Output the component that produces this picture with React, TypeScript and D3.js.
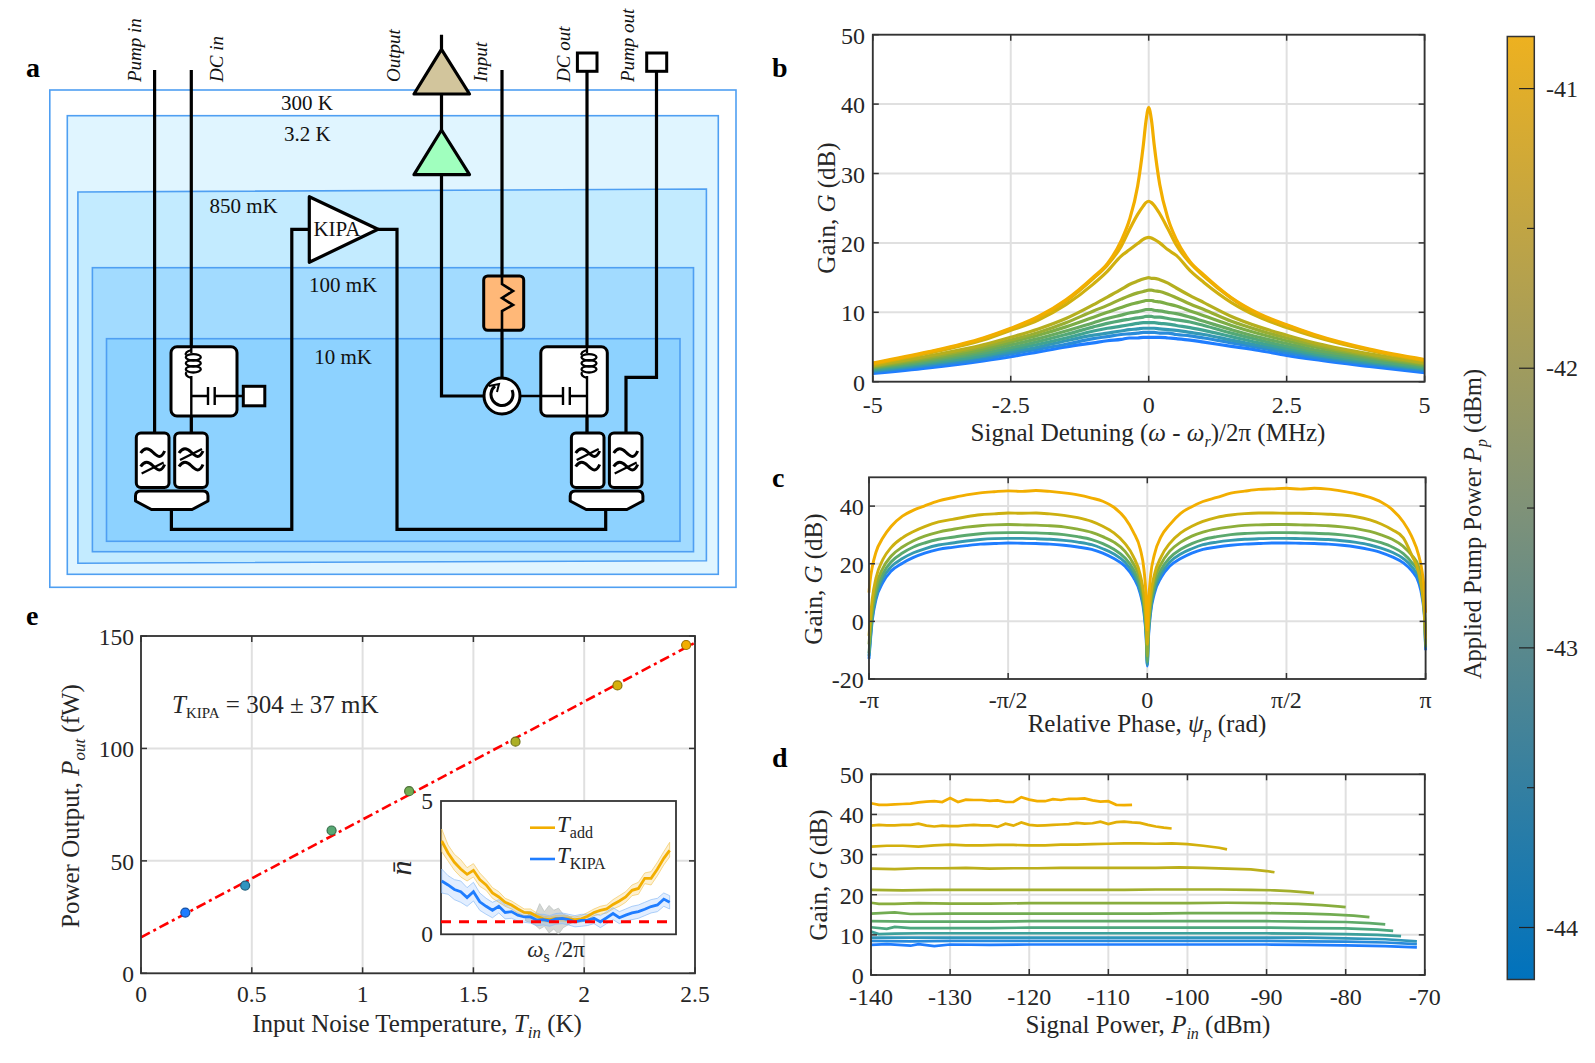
import React from "react";
import * as d3 from "d3";

// ---------- panel b ----------
const bX = [-5,-4,-3,-2.5,-2,-1.5,-1,-0.75,-0.5,-0.35,-0.2,-0.1,-0.05,0,0.05,0.1,0.2,0.35,0.5,0.75,1,1.5,2,2.5,3,4,5];
const b1 = [2.7,4.3,6.3,7.7,9.4,11.8,15.1,17,20.3,23.3,28.2,33.9,37.5,39.5,37.7,34.1,28.4,23.5,20.5,17.3,15.4,12.1,9.8,8.2,6.8,4.7,3.2];
const b2 = [2.6,4.2,6.2,7.6,9.2,11.6,14.9,16.8,19.5,21.9,24.1,25.3,25.8,26,25.8,25.4,24.2,22,19.7,17.1,15.2,12,9.6,8.1,6.7,4.6,3.1];
const b3 = [2.5,4.1,6,7.4,8.9,11.1,14.1,15.9,18.1,19,19.9,20.5,20.7,20.8,20.7,20.5,20,19,18.2,16,14.3,11.4,9.3,7.8,6.5,4.5,3];
const b4 = [2.3,3.7,5.3,6.4,7.6,9.1,11.1,12.2,13.3,14,14.5,14.8,14.9,15,14.9,14.9,14.7,14.2,13.5,12.4,11.4,9.4,7.9,6.7,5.6,4,2.7];
const b5 = [2.2,3.5,5,6,7.1,8.5,10.2,11,11.9,12.4,12.8,13,13.1,13.2,13.2,13.1,13,12.6,12.1,11.2,10.4,8.7,7.4,6.3,5.3,3.8,2.6];
const b6 = [2.1,3.3,4.7,5.7,6.7,7.9,9.3,10,10.7,11.1,11.4,11.6,11.7,11.7,11.7,11.6,11.5,11.2,10.9,10.2,9.5,8.1,6.9,5.9,5,3.6,2.4];
const b7 = [2,3.1,4.4,5.3,6.2,7.3,8.5,9.1,9.6,9.9,10.1,10.3,10.4,10.4,10.4,10.3,10.2,10,9.8,9.3,8.7,7.5,6.4,5.5,4.6,3.4,2.3];
const b8 = [1.9,2.9,4.1,4.9,5.8,6.8,7.9,8.4,8.8,9,9.2,9.3,9.4,9.4,9.4,9.3,9.3,9.1,8.9,8.6,8.1,7,6,5.1,4.3,3.1,2.1];
const b9 = [1.7,2.7,3.8,4.6,5.4,6.3,7.3,7.7,8,8.2,8.4,8.5,8.5,8.5,8.5,8.5,8.4,8.3,8.1,7.8,7.4,6.5,5.6,4.8,4,2.9,1.9];
const b10 = [1.6,2.5,3.6,4.3,5,5.9,6.7,7,7.3,7.5,7.6,7.7,7.7,7.7,7.7,7.7,7.6,7.5,7.4,7.1,6.8,6,5.2,4.5,3.8,2.7,1.8];
const b11 = [1.4,2.3,3.3,4,4.7,5.4,6.2,6.5,6.8,6.9,7,7.1,7.1,7.1,7.1,7.1,7,7,6.8,6.6,6.3,5.6,4.9,4.2,3.5,2.5,1.6];
const b12 = [1.2,2,3,3.6,4.3,5,5.6,5.9,6.1,6.3,6.3,6.4,6.4,6.4,6.4,6.4,6.4,6.3,6.2,6,5.7,5.1,4.5,3.8,3.2,2.2,1.3];
const bSeries = [b1,b2,b3,b4,b5,b6,b7,b8,b9,b10,b11,b12];

// ---------- panel c (x in units of pi) ----------
const cX = [-1,-0.996,-0.988,-0.975,-0.95,-0.92,-0.88,-0.84,-0.8,-0.75,-0.7,-0.65,-0.6,-0.55,-0.5,-0.45,-0.4,-0.35,-0.3,-0.25,-0.2,-0.16,-0.12,-0.08,-0.05,-0.025,-0.012,-0.004,0,
  0.004,0.012,0.025,0.05,0.08,0.12,0.16,0.2,0.25,0.3,0.35,0.4,0.45,0.5,0.55,0.6,0.65,0.7,0.75,0.8,0.84,0.88,0.92,0.95,0.975,0.988,0.996,1];
const c1 = [10,14,19,24,29,33,36.5,38.6,40.1,41.8,42.9,43.9,44.6,45,45.3,45.1,45.4,45.1,44.6,43.9,42.8,41.7,39.6,35.8,31,25,18,8,-3,
  6,16,23,29.5,33.5,37.5,39.8,41.6,43,44.5,45.2,45.8,46,46.2,45.9,46.2,45.9,45.2,44.3,43,41.4,38.8,34.5,29.5,23,17,10,3];
const c2 = [-5,0,8,15,21.5,25.7,29,31.2,32.9,34.5,35.4,36.3,37,37.3,37.6,37.5,37.6,37.3,36.8,36,34.7,33,30.7,27,22.5,16,9,0,-8,
  0,9,16,22.5,27,30.7,33,34.7,36.1,36.9,37.4,37.6,37.6,37.5,37.5,37.4,37.2,36.9,36.3,35.2,33.8,31.8,29,23,17,10,2,-6];
const c3 = [-8,-3,5,12,18.5,22.7,25.8,28,29.6,31,31.9,32.7,33.2,33.5,33.6,33.5,33.4,33.2,32.8,32,30.9,29.4,27.5,24.3,20,14,7,-2,-12,
  -2,7,14,20,24.3,27.5,29.6,31,32.1,32.8,33.3,33.5,33.6,33.6,33.5,33.4,33.2,32.8,32.2,31.2,30,28.5,26,23,19,13,5,-8];
const c4 = [-11,-6,3,10,16.5,20.7,23.7,25.8,27.2,28.5,29.2,29.9,30.4,30.7,30.8,30.8,30.7,30.5,30.1,29.4,28.4,27,25,22,18,12,5,-4,-14,
  -4,5,12,18,22,25,27,28.4,29.4,30.1,30.5,30.7,30.8,30.8,30.7,30.6,30.4,30,29.4,28.4,27.3,25.8,23.5,20.5,17,11,3,-9];
const c5 = [-12,-7,1.5,8.5,15,19,21.8,23.8,25.2,26.5,27.2,27.9,28.4,28.7,28.8,28.8,28.7,28.5,28.1,27.5,26.6,25.2,23.4,20.5,16.5,10.5,4,-5,-15,
  -5,4,10.5,16.5,20.5,23.4,25.2,26.6,27.5,28.1,28.5,28.7,28.8,28.8,28.7,28.6,28.4,28,27.4,26.5,25.4,24,21.8,19,15,9.5,2,-9];
const c6 = [-13,-8,0.5,7.5,13.5,17.5,20.2,22.2,23.7,25,25.7,26.3,26.8,27,27.2,27.1,27,26.8,26.4,25.8,25,23.7,21.8,19.1,15.3,9.5,3,-6,-15.5,
  -6,3,9.5,15.3,19.1,21.8,23.7,25,25.8,26.4,26.8,27,27.2,27.2,27.1,27,26.8,26.4,25.8,24.9,23.9,22.4,20.3,17.6,13.5,8,1,-10];
const cSeries = [c1,c2,c3,c4,c5,c6];

// ---------- panel d ----------
const d1X = [-140,-139,-138,-137,-136,-135,-134,-133,-132,-131,-130,-129,-128,-127,-126,-125,-124,-123,-122,-121,-120,-119,-118,-117,-116,-115,-114,-113,-112,-111,-110,-109,-108,-107];
const d1Y = [42.8,42.4,42.4,42.5,42.6,42.7,43,43.2,43.3,43.1,44.1,43.1,43.7,43.6,43.6,43.4,43.5,43.1,43.1,44.3,43.7,43.3,43.3,43.8,43.6,43.9,43.9,44,43.5,43.2,43.3,42.4,42.3,42.4];
const d2X = [-140,-139,-138,-137,-136,-135,-134,-133,-132,-131,-130,-129,-128,-127,-126,-125,-124,-123,-122,-121,-120,-119,-118,-117,-116,-115,-114,-113,-112,-111,-110,-109,-108,-107,-106,-105,-104,-103,-102];
const d2Y = [37.2,37.4,37.3,37.3,37.4,37.4,37.7,37.2,37,37.2,37.1,37.1,37.3,37.4,37.3,37.3,36.9,37.7,37.2,38,37.4,37.2,37.3,37.4,37.5,37.6,37.9,37.7,37.8,38.2,37.6,38.1,38.2,38,37.9,37.4,37,36.7,36.5];
const d3X = [-140,-138,-136,-134,-132,-130,-128,-126,-124,-122,-120,-118,-116,-114,-112,-110,-108,-106,-104,-102,-100,-98,-96,-95];
const d3Y = [32,32.2,32.2,32,32.3,32.5,32.3,32.3,32.4,32.4,32.3,32.3,32.5,32.5,32.6,32.7,32.8,32.8,32.7,32.8,32.6,32.2,31.7,31.3];
const d4X = [-140,-137,-134,-131,-128,-125,-122,-119,-116,-113,-110,-107,-104,-101,-98,-95,-92,-90,-89];
const d4Y = [26.5,26.4,26.6,26.6,26.7,26.5,26.6,26.6,26.7,26.7,26.7,26.7,26.7,26.8,26.7,26.5,26.3,25.9,25.6];
const d5X = [-140,-136,-132,-128,-124,-120,-116,-112,-108,-104,-100,-96,-92,-89,-87,-85,-84];
const d5Y = [21.2,21.1,21.2,21.2,21.2,21.2,21.2,21.2,21.2,21.3,21.3,21.3,21.2,21.1,20.9,20.6,20.4];
const d6X = [-140,-139,-137,-134,-130,-125,-120,-115,-110,-105,-100,-95,-90,-86,-83,-81,-80];
const d6Y = [18,17.7,17.7,17.9,17.8,17.8,17.9,17.9,17.9,17.9,17.9,18,17.9,17.7,17.4,17.1,16.9];
const d7X = [-140,-137,-135,-130,-125,-120,-115,-110,-105,-100,-95,-90,-85,-82,-79,-77];
const d7Y = [15.3,15.6,15.2,15.3,15.3,15.3,15.3,15.3,15.3,15.4,15.4,15.4,15.3,15.1,14.8,14.4];
const d8X = [-140,-135,-130,-125,-120,-115,-110,-105,-100,-95,-90,-85,-80,-77,-75];
const d8Y = [13.4,13.3,13.3,13.3,13.4,13.4,13.4,13.4,13.4,13.4,13.4,13.3,13.2,12.9,12.6];
const d9X = [-140,-138,-137,-135,-130,-125,-120,-115,-110,-105,-100,-95,-90,-85,-80,-76,-74];
const d9Y = [11.9,11.5,12,11.7,11.7,11.7,11.8,11.8,11.8,11.8,11.8,11.8,11.8,11.7,11.6,11.3,11];
const d10X = [-140,-139,-137,-134,-130,-125,-120,-115,-110,-105,-100,-95,-90,-85,-80,-76,-73];
const d10Y = [10.8,10.2,10.3,10.4,10.4,10.4,10.4,10.4,10.4,10.4,10.4,10.4,10.4,10.3,10.2,10,9.7];
const d11X = [-140,-135,-130,-125,-120,-115,-110,-105,-100,-95,-90,-85,-80,-75,-71];
const d11Y = [9.3,9.3,9.3,9.3,9.3,9.3,9.3,9.3,9.3,9.3,9.3,9.3,9.1,8.9,8.4];
const d12X = [-140,-135,-130,-125,-120,-115,-110,-105,-100,-95,-90,-85,-80,-75,-71];
const d12Y = [8.5,8.4,8.5,8.5,8.5,8.5,8.5,8.5,8.5,8.5,8.5,8.4,8.3,8.1,7.7];
const d13X = [-140,-138,-135,-134,-132,-130,-125,-120,-115,-110,-105,-100,-95,-90,-85,-80,-75,-71];
const d13Y = [7.5,7.7,7.3,7.7,7.2,7.6,7.5,7.6,7.6,7.6,7.6,7.6,7.6,7.6,7.5,7.4,7.2,6.9];
const dSeries: [number[], number[]][] = [[d1X,d1Y],[d2X,d2Y],[d3X,d3Y],[d4X,d4Y],[d5X,d5Y],[d6X,d6Y],[d7X,d7Y],[d8X,d8Y],[d9X,d9Y],[d10X,d10Y],[d11X,d11Y],[d12X,d12Y],[d13X,d13Y]];

// ---------- panel e ----------
const eTin = [0.2,0.47,0.86,1.21,1.69,2.15,2.46];
const ePout = [27,39,63.5,81,103,128,146];
const eColorT = [1,0.85,0.62,0.5,0.3,0.15,0];
const eFitX = [0,2.5];
const eFitY = [16,147];

// ---------- inset ----------
const iX = [0.003,0.03,0.057,0.084,0.111,0.138,0.165,0.192,0.219,0.246,0.273,0.3,0.327,0.354,0.381,0.408,0.435,0.462,0.489,0.516,0.543,0.57,0.597,0.624,0.651,0.678,0.705,0.732,0.759,0.786,0.813,0.84,0.867,0.894,0.921,0.948,0.973];
const iAdd = [3.5,3.05,2.7,2.45,2.25,2.4,2.05,1.85,1.55,1.4,1.2,1.1,0.95,0.82,0.8,0.68,0.58,0.55,0.6,0.6,0.58,0.55,0.58,0.68,0.82,0.9,0.95,1.12,1.25,1.4,1.65,1.72,2.1,2.1,2.45,2.85,3.15];
const iAddUp = [3.95,3.35,3,2.8,2.5,2.65,2.3,2.05,1.75,1.6,1.35,1.25,1.1,0.95,0.95,0.8,0.68,0.65,0.7,0.7,0.68,0.65,0.7,0.82,0.95,1.05,1.1,1.3,1.45,1.6,1.85,1.95,2.3,2.35,2.7,3.1,3.45];
const iAddLo = [3.1,2.75,2.4,2.15,2,2.15,1.8,1.65,1.35,1.2,1.05,0.95,0.8,0.7,0.68,0.56,0.48,0.45,0.5,0.5,0.48,0.45,0.46,0.55,0.7,0.75,0.8,0.95,1.05,1.2,1.45,1.5,1.9,1.85,2.2,2.6,2.9];
const iKipa = [2,1.85,1.68,1.6,1.38,1.6,1.22,1.05,0.9,1.05,0.82,0.85,0.72,0.65,0.65,0.53,0.55,0.5,0.58,0.6,0.55,0.47,0.52,0.53,0.6,0.47,0.62,0.78,0.62,0.72,0.8,0.85,0.94,1.04,1.1,1.32,1.2];
const iKipaUp = [2.45,2.2,2.05,2,1.75,1.95,1.55,1.35,1.2,1.3,1.1,1.1,0.95,0.85,0.85,0.75,0.75,0.7,0.78,0.8,0.75,0.7,0.75,0.75,0.8,0.7,0.85,1,0.85,0.95,1.05,1.1,1.2,1.3,1.35,1.55,1.45];
const iKipaLo = [1.55,1.5,1.3,1.2,1.05,1.25,0.9,0.75,0.62,0.8,0.58,0.6,0.5,0.45,0.42,0.32,0.35,0.3,0.38,0.4,0.35,0.28,0.3,0.33,0.4,0.25,0.4,0.55,0.4,0.5,0.55,0.6,0.7,0.8,0.85,1.05,0.95];
const iGrayX = [0.36,0.38,0.4,0.42,0.44,0.46,0.48,0.5,0.52,0.54,0.56];
const iGrayUp = [0.65,0.8,0.72,1.15,0.85,1.08,0.9,0.98,0.75,0.7,0.6];
const iGrayLo = [0.5,0.45,0.35,0.2,0.3,0.05,0.2,0,0.25,0.35,0.45];
const iFloorX = [0,0.975];
const iFloorY = [0.47,0.47];

// ---------- tick labels ----------
const bXTicks = [-5,-2.5,0,2.5,5];
const bYTicks = [0,10,20,30,40,50];
const cXTicks = [-1,-0.5,0,0.5,1];
const cXLabels = ["-π","-π/2","0","π/2","π"];
const cYTicks = [-20,0,20,40];
const dXTicks = [-140,-130,-120,-110,-100,-90,-80,-70];
const dYTicks = [0,10,20,30,40,50];
const eXTicks = [0,0.5,1,1.5,2,2.5];
const eYTicks = [0,50,100,150];
const cbTicks = [-41,-42,-43,-44];
const cbMinor = [-41.5,-42.5,-43.5];

const FONT = "'Liberation Serif', 'Times New Roman', serif";
const INK = "#262626";
const ramp = d3.scaleLinear<string>()
  .domain([0,0.2,0.45,0.7,0.85,1])
  .range(["#f2ae00","#ccb010","#7dad45","#44a688","#2f94c0","#1f7dff"])
  .interpolate(d3.interpolateRgb);

type S = d3.ScaleLinear<number, number>;

function Axes(p: { x: S; y: S; xt: number[]; yt: number[]; xl?: string[]; xBase: number; yRight: number; size?: number; children?: React.ReactNode }) {
  const [x0, x1] = p.x.range();
  const [y0, y1] = p.y.range();
  const tick = 6;
  const size = p.size ?? 24;
  return (
    <g fontFamily={FONT} fill={INK}>
      <g stroke="#e0e0e0" strokeWidth={2}>
        {p.xt.map((t) => <line key={t} x1={p.x(t)} x2={p.x(t)} y1={y0} y2={y1} />)}
        {p.yt.map((t) => <line key={t} y1={p.y(t)} y2={p.y(t)} x1={x0} x2={x1} />)}
      </g>
      {p.children}
      <rect x={x0} y={y1} width={x1 - x0} height={y0 - y1} fill="none" stroke="#333" strokeWidth={1.8} />
      <g stroke="#333" strokeWidth={1.5}>
        {p.xt.map((t) => (
          <g key={t}>
            <line x1={p.x(t)} x2={p.x(t)} y1={y0} y2={y0 - tick} />
            <line x1={p.x(t)} x2={p.x(t)} y1={y1} y2={y1 + tick} />
          </g>
        ))}
        {p.yt.map((t) => (
          <g key={t}>
            <line y1={p.y(t)} y2={p.y(t)} x1={x0} x2={x0 + tick} />
            <line y1={p.y(t)} y2={p.y(t)} x1={x1} x2={x1 - tick} />
          </g>
        ))}
      </g>
      <g fontSize={size}>
        {p.xt.map((t, i) => (
          <text key={t} x={p.x(t)} y={p.xBase} textAnchor="middle">{p.xl ? p.xl[i] : String(t)}</text>
        ))}
        {p.yt.map((t) => (
          <text key={t} x={p.yRight} y={p.y(t) + 9} textAnchor="end">{t}</text>
        ))}
      </g>
    </g>
  );
}

const It = (p: { children: React.ReactNode }) => <tspan fontStyle="italic">{p.children}</tspan>;

function Filter({ x0, x1, cross }: { x0: number; x1: number; cross: "top" | "bottom" }) {
  const cx = (x0 + x1) / 2;
  const wave = (y: number) => `M${cx - 12},${y} C${cx - 8},${y - 6} ${cx - 4},${y - 5} ${cx},${y - 1} S${cx + 8},${y + 7} ${cx + 12},${y - 2}`;
  const crossLine = (y: number) => `M${cx - 11},${y + 7} L${cx + 11},${y - 4}`;
  const yTop = 453, yBot = 466.5;
  return (
    <g>
      <rect x={x0} y={433} width={x1 - x0} height={54.5} rx={4.5} fill="#fff" stroke="#000" strokeWidth={3} />
      <path d={wave(yTop)} fill="none" stroke="#000" strokeWidth={3} />
      <path d={wave(yBot)} fill="none" stroke="#000" strokeWidth={3} />
      <path d={crossLine(cross === "top" ? yTop : yBot)} stroke="#000" strokeWidth={2.2} />
    </g>
  );
}

function Combiner({ x0, x1 }: { x0: number; x1: number }) {
  const m = x1 - x0;
  return (
    <path
      d={`M${x0 + 5},491 H${x1 - 5} Q${x1},491 ${x1},496 V501 L${x1 - m * 0.22},509.5 H${x0 + m * 0.22} L${x0},501 V496 Q${x0},491 ${x0 + 5},491 Z`}
      fill="#fff" stroke="#000" strokeWidth={3} strokeLinejoin="round" />
  );
}

function Coil({ x }: { x: number }) {
  return (
    <g fill="none" stroke="#000" strokeWidth={2.3}>
      <path d={`M${x},347 V353`} />
      <ellipse cx={x + 2} cy={357.3} rx={7.5} ry={3.2} />
      <ellipse cx={x + 2} cy={363.3} rx={7.5} ry={3.2} />
      <ellipse cx={x + 2} cy={369.3} rx={7.5} ry={3.2} />
      <path d={`M${x - 5},355 Q${x - 7},352 ${x},350 M${x - 5},372 Q${x - 7},376 ${x},378`} />
    </g>
  );
}

function Schematic() {
  const w = 3.2;
  const k = { fill: "none", stroke: "#000", strokeWidth: w, strokeLinejoin: "miter" as const };
  const zone = "#4f9ff2";
  return (
    <g>
      <rect x={49.8} y={90} width={686.2} height={497.3} fill="#fff" stroke={zone} strokeWidth={1.6} />
      <rect x={67.3} y={115.7} width={651} height={458.6} fill="#e0f5ff" stroke={zone} strokeWidth={1.6} />
      <path d="M77.9,192 L706.4,189 L706.4,560.7 L77.9,563.3 Z" fill="#c3ebff" stroke={zone} strokeWidth={1.6} />
      <rect x={92.4} y={267.7} width={601.1} height={284} fill="#a2dbff" stroke={zone} strokeWidth={1.6} />
      <rect x={106.5} y={338.7} width={573.5} height={202.6} fill="#8dd2ff" stroke={zone} strokeWidth={1.6} />

      {/* wires */}
      <path d="M154.6,70 V432.7" {...k} />
      <path d="M191.3,70 V432.7" {...k} />
      <path d="M171.4,509 V529.3 H291.8 V229.3 H309.3" {...k} />
      <path d="M378,229.3 H397 V529.3 H605.7 V509" {...k} />
      <path d="M441.5,34.7 V396 H484" {...k} />
      <path d="M502,70 V278" {...k} />
      <path d="M502,330 V378" {...k} />
      <path d="M587,71 V432.7" {...k} />
      <path d="M656.5,71 V377.3 H626 V432.7" {...k} />

      {/* amplifiers */}
      <path d="M441.5,49.3 L469.5,94 H414 Z" fill="#d2c59c" stroke="#000" strokeWidth={w} strokeLinejoin="round" />
      <path d="M441.5,130 L469.5,174.7 H414 Z" fill="#a0ffbe" stroke="#000" strokeWidth={w} strokeLinejoin="round" />
      <path d="M309.3,196.7 L378,229.3 L309.3,262.3 Z" fill="#fff" stroke="#000" strokeWidth={w} strokeLinejoin="round" />
      <text x={337} y={236} textAnchor="middle" fontFamily={FONT} fontSize={21} fill="#111">KIPA</text>

      {/* attenuator */}
      <rect x={483.7} y={276} width={40} height={54.3} rx={4} fill="#ffb878" stroke="#000" strokeWidth={3} />
      <path d="M502,276 V284 L513,291 L502,298 L513,305 L502,311 V330" fill="none" stroke="#000" strokeWidth={2.6} />

      {/* resonator boxes */}
      <rect x={171} y={346.7} width={66} height={69.3} rx={6} fill="#fff" stroke="#000" strokeWidth={3} />
      <rect x={540.8} y={346.7} width={66.5} height={69.3} rx={6} fill="#fff" stroke="#000" strokeWidth={3} />
      <path d="M191.3,376 V432.7" {...k} strokeWidth={2.4} />
      <path d="M587,376 V432.7" {...k} strokeWidth={2.4} />
      <Coil x={191.3} />
      <Coil x={587} />
      <g stroke="#000" strokeWidth={2.4} fill="none">
        <path d="M191.3,396 H208 M214.7,396 H243" />
        <path d="M208,387 V405 M214.7,387 V405" />
        <path d="M521,396 H563 M569.8,396 H587" />
        <path d="M563,387 V405 M569.8,387 V405" />
      </g>

      {/* circulator */}
      <circle cx={502} cy={396} r={18} fill="#fff" stroke="#000" strokeWidth={3} />
      <path d="M495,386 A11,11 0 1 0 512,390" fill="none" stroke="#000" strokeWidth={3} />
      <path d="M489,386 L499,384 L497,392" fill="none" stroke="#000" strokeWidth={2} />

      {/* squares */}
      <rect x={243.3} y={386.3} width={21.5} height={19.5} fill="#fff" stroke="#000" strokeWidth={3} />
      <rect x={577.4} y={53} width={19.6} height={18.3} fill="#fff" stroke="#000" strokeWidth={3} />
      <rect x={646.7} y={53} width={20} height={18.3} fill="#fff" stroke="#000" strokeWidth={3} />

      {/* filters */}
      <Filter x0={136.3} x1={169} cross="bottom" />
      <Filter x0={174.7} x1={207.3} cross="top" />
      <Filter x0={571.4} x1={604} cross="top" />
      <Filter x0={609.4} x1={642} cross="bottom" />
      <Combiner x0={135.5} x1={208} />
      <Combiner x0={570.2} x1={642.9} />

      {/* labels */}
      <g fontFamily={FONT} fontSize={21} fill="#111">
        <text x={307} y={110} textAnchor="middle">300 K</text>
        <text x={307.4} y={140.7} textAnchor="middle">3.2 K</text>
        <text x={243.6} y={213} textAnchor="middle">850 mK</text>
        <text x={343} y={291.7} textAnchor="middle">100 mK</text>
        <text x={343} y={364} textAnchor="middle">10 mK</text>
      </g>
      <g fontFamily={FONT} fontSize={19} fontStyle="italic" fill="#111">
        {([["Pump in",141],["DC in",222.5],["Output",400],["Input",486.5],["DC out",570],["Pump out",634]] as [string,number][]).map(([t, x]) => (
          <text key={t} transform={`translate(${x},82) rotate(-90)`}>{t}</text>
        ))}
      </g>
    </g>
  );
}

export default function App() {
  const bx = d3.scaleLinear().domain([-5, 5]).range([872.8, 1424.6]);
  const by = d3.scaleLinear().domain([0, 50]).range([381.7, 34.7]);
  const cx = d3.scaleLinear().domain([-1, 1]).range([869, 1425.6]);
  const cy = d3.scaleLinear().domain([-20, 50]).range([679, 477.3]);
  const dx = d3.scaleLinear().domain([-140, -70]).range([871, 1424.8]);
  const dy = d3.scaleLinear().domain([0, 50]).range([975, 774.3]);
  const ex = d3.scaleLinear().domain([0, 2.5]).range([141, 695]);
  const ey = d3.scaleLinear().domain([0, 150]).range([973.3, 636]);
  const ix = d3.scaleLinear().domain([0, 1]).range([441, 676]);
  const iy = d3.scaleLinear().domain([0, 5]).range([934.3, 801]);
  const cb = d3.scaleLinear().domain([-41, -44]).range([88.6, 927.5]);

  const path = (xs: number[], ys: number[], sx: S, sy: S, curve: d3.CurveFactory = d3.curveLinear) =>
    d3.line<number>().x((_, i) => sx(xs[i])).y((v) => sy(v)).curve(curve)(ys) as string;
  const band = (xs: number[], up: number[], lo: number[]) =>
    d3.area<number>().x((_, i) => ix(xs[i])).y0((_, i) => iy(lo[i])).y1((v) => iy(v))(up) as string;
  const rev = <T,>(a: T[]) => [...a].reverse();

  return (
    <svg width={1595} height={1063} style={{ position: "absolute", left: 0, top: 0, display: "block" }} fontFamily={FONT}>
      <defs>
        <linearGradient id="cbg" x1="0" x2="0" y1="0" y2="1">
          <stop offset="0" stopColor="#edb120" />
          <stop offset="0.5" stopColor="#7f9278" />
          <stop offset="1" stopColor="#0072bd" />
        </linearGradient>
        <clipPath id="clipI"><rect x={441} y={801} width={235} height={133.3} /></clipPath>
      </defs>
      <rect width={1595} height={1063} fill="#fff" />

      <Schematic />

      {/* panel letters */}
      <g fontWeight="bold" fontSize={28} fill="#000">
        <text x={26} y={77}>a</text>
        <text x={772} y={77}>b</text>
        <text x={772} y={487}>c</text>
        <text x={772} y={767}>d</text>
        <text x={26} y={625}>e</text>
      </g>

      {/* b */}
      <Axes x={bx} y={by} xt={bXTicks} yt={bYTicks} xBase={413} yRight={865}>
        {rev(bSeries.map((s, i) => (
          <path key={i} d={path(bX, s, bx, by, d3.curveMonotoneX)} fill="none" stroke={ramp(i / (bSeries.length - 1))} strokeWidth={3.2} />
        )))}
      </Axes>
      <g fontSize={25} fill={INK}>
        <text transform="translate(835,208) rotate(-90)" textAnchor="middle">Gain, <It>G</It> (dB)</text>
        <text x={1148} y={441} textAnchor="middle">Signal Detuning (<It>ω</It> - <It>ω</It><tspan fontStyle="italic" fontSize={16} dy={6}>r</tspan><tspan dy={-6}>)/2π (MHz)</tspan></text>
      </g>

      {/* c */}
      <Axes x={cx} y={cy} xt={cXTicks} yt={cYTicks} xl={cXLabels} xBase={708} yRight={863.7}>
        {rev(cSeries.map((s, i) => (
          <path key={i} d={path(cX, s, cx, cy, d3.curveMonotoneX)} fill="none" stroke={ramp(i / (cSeries.length - 1))} strokeWidth={2.9} />
        )))}
      </Axes>
      <g fontSize={25} fill={INK}>
        <text transform="translate(822,579) rotate(-90)" textAnchor="middle">Gain, <It>G</It> (dB)</text>
        <text x={1147} y={732} textAnchor="middle">Relative Phase, <It>ψ</It><tspan fontStyle="italic" fontSize={16} dy={6}>p</tspan><tspan dy={-6}> (rad)</tspan></text>
      </g>

      {/* d */}
      <Axes x={dx} y={dy} xt={dXTicks} yt={dYTicks} xBase={1005} yRight={863.7}>
        {rev(dSeries.map(([xs, ys], i) => (
          <path key={i} d={path(xs, ys, dx, dy)} fill="none" stroke={ramp(i / (dSeries.length - 1))} strokeWidth={2.7} />
        )))}
      </Axes>
      <g fontSize={25} fill={INK}>
        <text transform="translate(827,875) rotate(-90)" textAnchor="middle">Gain, <It>G</It> (dB)</text>
        <text x={1148} y={1033} textAnchor="middle">Signal Power, <It>P</It><tspan fontStyle="italic" fontSize={16} dy={6}>in</tspan><tspan dy={-6}> (dBm)</tspan></text>
      </g>

      {/* e */}
      <Axes x={ex} y={ey} xt={eXTicks} yt={eYTicks} xBase={1002} yRight={134} size={23.5}>
        <path d={path(eFitX, eFitY, ex, ey)} fill="none" stroke="#f00" strokeWidth={2.6} strokeDasharray="10 4 3 4" />
        {eTin.map((t, i) => {
          const c = d3.color(ramp(eColorT[i]))!;
          return <circle key={i} cx={ex(t)} cy={ey(ePout[i])} r={4.5} fill={c.formatHex()} stroke={c.darker(1.2).formatHex()} strokeWidth={1.2} />;
        })}
      </Axes>
      <g fontSize={25} fill={INK}>
        <text transform="translate(79,806) rotate(-90)" textAnchor="middle">Power Output, <It>P</It><tspan fontStyle="italic" fontSize={17} dy={6}>out</tspan><tspan dy={-6}> (fW)</tspan></text>
        <text x={417} y={1032} textAnchor="middle">Input Noise Temperature, <It>T</It><tspan fontStyle="italic" fontSize={17} dy={6}>in</tspan><tspan dy={-6}> (K)</tspan></text>
        <text x={172} y={713}><It>T</It><tspan fontSize={15} dy={5}>KIPA</tspan><tspan dy={-5}> = 304 ± 37 mK</tspan></text>
      </g>

      {/* inset */}
      <rect x={441} y={801} width={235} height={133.3} fill="#fff" stroke="#333" strokeWidth={1.8} />
      <g clipPath="url(#clipI)">
        <path d={band(iGrayX, iGrayUp, iGrayLo)} fill="#d5d8d6" stroke="#bfc4c2" strokeWidth={0.8} />
        <path d={band(iX, iAddUp, iAddLo)} fill="#f2ae00" fillOpacity={0.18} stroke="#f2c860" strokeWidth={0.7} />
        <path d={band(iX, iKipaUp, iKipaLo)} fill="#1f7dff" fillOpacity={0.13} stroke="#8cbcf5" strokeWidth={0.7} />
        <path d={path(iX, iAdd, ix, iy)} fill="none" stroke="#f2ae00" strokeWidth={2.8} />
        <path d={path(iX, iKipa, ix, iy)} fill="none" stroke="#1f7dff" strokeWidth={2.8} />
        <path d={path(iFloorX, iFloorY, ix, iy)} fill="none" stroke="#f00" strokeWidth={2.8} strokeDasharray="10 8" />
      </g>
      <g fill={INK}>
        <text x={433} y={809} textAnchor="end" fontSize={23.5}>5</text>
        <text x={433} y={942} textAnchor="end" fontSize={23.5}>0</text>
        <text transform="translate(411,868) rotate(-90)" textAnchor="middle" fontSize={30} fontStyle="italic">n̄</text>
        <text x={556} y={957} textAnchor="middle" fontSize={23}><It>ω</It><tspan fontSize={16} dy={5}>s</tspan><tspan dy={-5}> /2π</tspan></text>
        <line x1={530} x2={555} y1={827.7} y2={827.7} stroke="#f2ae00" strokeWidth={2.6} />
        <line x1={530} x2={555} y1={859} y2={859} stroke="#1f7dff" strokeWidth={2.6} />
        <text x={557} y={832} fontSize={23}><It>T</It><tspan fontSize={16} dy={6}>add</tspan></text>
        <text x={557} y={863} fontSize={23}><It>T</It><tspan fontSize={16} dy={6}>KIPA</tspan></text>
      </g>

      {/* colorbar */}
      <rect x={1507.3} y={36.5} width={27} height={943} fill="url(#cbg)" stroke="#333" strokeWidth={1.5} />
      <g stroke="#222" strokeWidth={1.2}>
        {cbTicks.map((t) => <line key={t} x1={1519} x2={1534.3} y1={cb(t)} y2={cb(t)} />)}
        {cbMinor.map((t) => <line key={t} x1={1527} x2={1534.3} y1={cb(t)} y2={cb(t)} />)}
      </g>
      <g fontSize={24} fill={INK}>
        {cbTicks.map((t) => <text key={t} x={1546} y={cb(t) + 8}>{t}</text>)}
      </g>
      <text transform="translate(1481,524) rotate(-90)" textAnchor="middle" fontSize={24.5} fill={INK}>
        Applied Pump Power <It>P</It><tspan fontStyle="italic" fontSize={16} dy={6}>p</tspan><tspan dy={-6}> (dBm)</tspan>
      </text>
    </svg>
  );
}
